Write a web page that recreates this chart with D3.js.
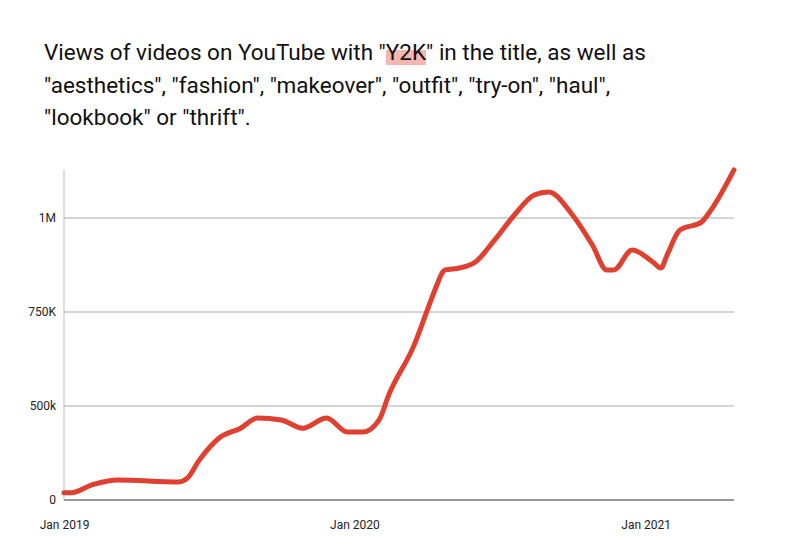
<html>
<head>
<meta charset="utf-8">
<style>
body { margin: 0; background: #fff; }
.title { font: 22.5px Roboto, sans-serif; fill: #111; }
.tick text { font: 12px Roboto, sans-serif; fill: #222; }
</style>
</head>
<body>
<div id="svg"></div>
<script src="https://d3js.org/d3.v7.min.js"></script>
<script type='text/javascript'>
var dates = ["2019-01-01","2019-01-10","2019-02-05","2019-03-10","2019-05-25","2019-06-05","2019-06-20",
  "2019-07-15","2019-08-11","2019-09-01","2019-10-01","2019-10-28","2019-11-27","2019-12-23",
  "2020-01-12","2020-02-01","2020-02-13","2020-03-16","2020-04-04","2020-04-11","2020-04-24",
  "2020-05-12","2020-06-01","2020-06-25","2020-07-20","2020-08-14","2020-09-01","2020-10-01",
  "2020-10-26","2020-11-13","2020-11-22","2020-12-15","2021-01-10","2021-01-20","2021-01-28",
  "2021-02-13","2021-03-12","2021-03-24","2021-04-22"];
var views = [269000,269000,290000,303000,298000,308000,356000,
  415000,441000,468000,463000,441000,468000,431000,
  431000,463000,529000,662000,769000,808000,862000,
  867000,883000,941000,1008000,1061000,1069000,1008000,
  928000,862000,862000,915000,883000,867000,902000,
  968000,989000,1021000,1128000];
var tickValues = [250000, 500000, 750000, 1000000];
var tickLabels = ["0", "500k", "750K", "1M"];
var xTicks = ["2019-01-01", "2020-01-01", "2021-01-01"];
var xLabels = ["Jan 2019", "Jan 2020", "Jan 2021"];

var parse = d3.timeParse("%Y-%m-%d");
var data = dates.map(function(d, i) { return {date: parse(d), value: views[i]}; });

var svg = d3.select("#svg").append("svg").attr("width", 794).attr("height", 552);

// highlight behind "Y2K", measured from the text itself
var hl = svg.append("rect").attr("fill", "#f4b6b0");
var t1 = svg.append("text").attr("class", "title").attr("x", 44).attr("y", 60);
var pre = t1.append("tspan").text('Views of videos on YouTube with "');
var key = t1.append("tspan").text('Y2K');
t1.append("tspan").text('" in the title, as well as');
var x0 = 44 + pre.node().getComputedTextLength();
hl.attr("x", x0).attr("y", 50).attr("width", key.node().getComputedTextLength()).attr("height", 15);

var lines = ['"aesthetics", "fashion", "makeover", "outfit", "try-on", "haul",',
  '"lookbook" or "thrift".'];
lines.forEach(function(l, i) {
    svg.append("text").attr("class", "title").attr("x", 44).attr("y", 93 + i * 32).text(l);
});

var x = d3.scaleTime().domain([parse("2019-01-01"), parse("2021-04-22")]).range([64, 734]);
var y = d3.scaleLinear().domain([250000, 1000000]).range([500, 218]);

svg.append("g").selectAll("line").data(tickValues.slice(1)).enter().append("line")
    .attr("x1", 64).attr("x2", 734).attr("y1", y).attr("y2", y)
    .attr("stroke", "#aaa").attr("stroke-width", 1);
svg.append("line").attr("x1", 64).attr("x2", 734).attr("y1", y(250000)).attr("y2", y(250000)).attr("stroke", "#333");
svg.append("line").attr("x1", 64).attr("x2", 64).attr("y1", 170).attr("y2", 500).attr("stroke", "#bbb");

var yAxis = svg.append("g").attr("transform", "translate(64,0)")
    .call(d3.axisLeft(y).tickValues(tickValues).tickSize(0).tickPadding(8)
        .tickFormat(function(d, i) { return tickLabels[i]; }));
yAxis.select(".domain").remove();

var xAxis = svg.append("g").attr("transform", "translate(0,500)")
    .call(d3.axisBottom(x).tickValues(xTicks.map(parse)).tickSize(0).tickPadding(20)
        .tickFormat(function(d, i) { return xLabels[i]; }));
xAxis.select(".domain").remove();

svg.append("path").datum(data)
    .attr("fill", "none").attr("stroke", "#e0402f").attr("stroke-width", 5)
    .attr("stroke-linejoin", "round").attr("stroke-linecap", "round")
    .attr("d", d3.line().x(function(d) { return x(d.date); }).y(function(d) { return y(d.value); })
        .curve(d3.curveMonotoneX));
</script>
</body>
</html>
